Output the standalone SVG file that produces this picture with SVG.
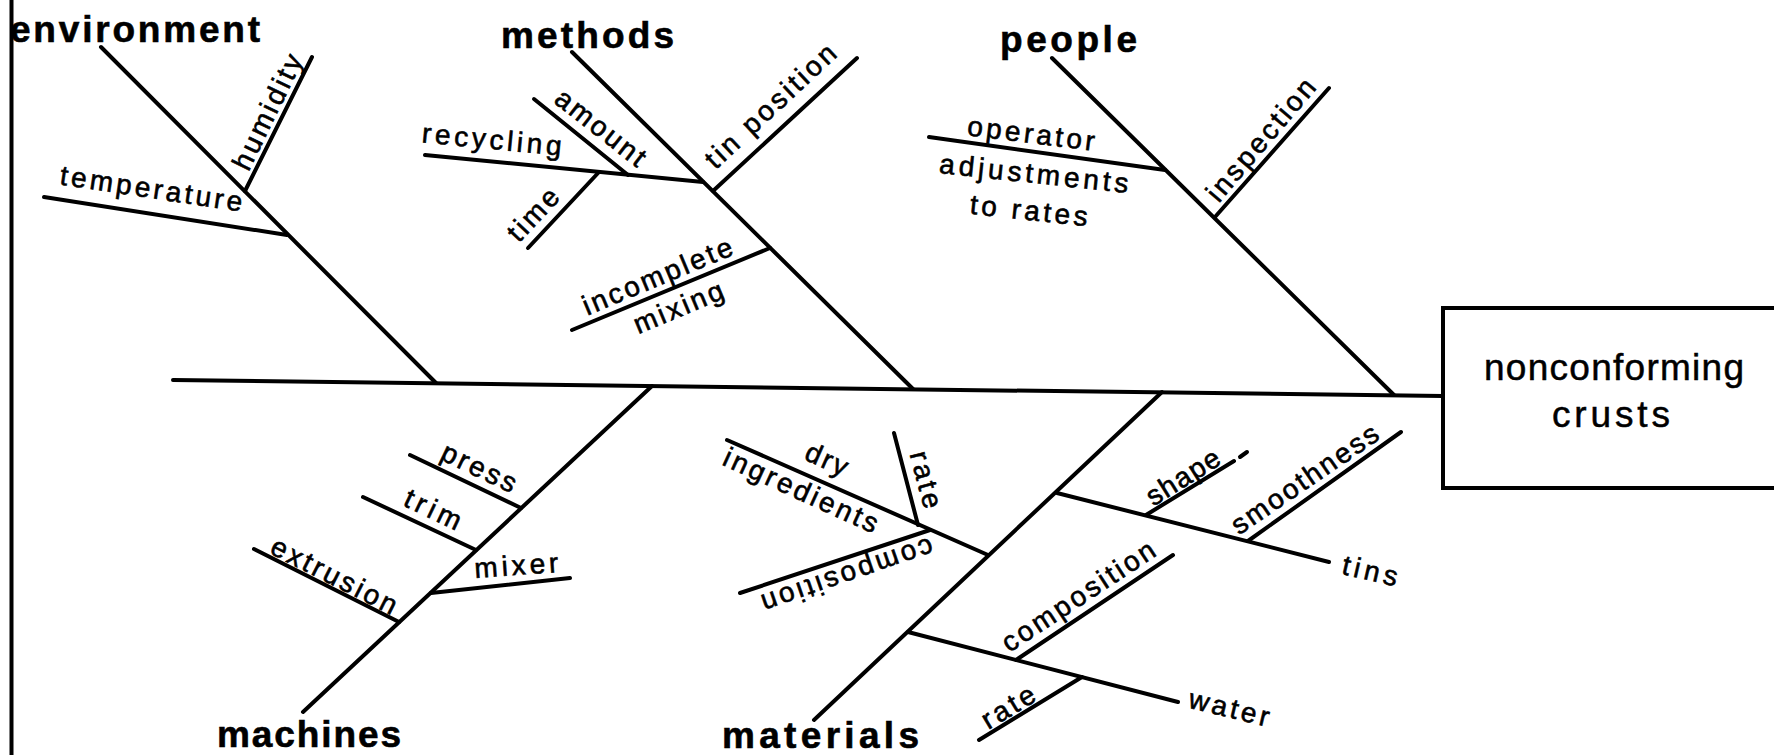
<svg xmlns="http://www.w3.org/2000/svg" width="1774" height="755" viewBox="0 0 1774 755">
<style>
.ln{stroke:#000;stroke-width:4;stroke-linecap:round;fill:none}
.cat{font-family:"Liberation Sans",Arial,sans-serif;font-weight:bold;font-size:37px;fill:#000;stroke:#000;stroke-width:0.6}
.lbl{font-family:"Liberation Sans",Arial,sans-serif;font-size:28px;fill:#000;stroke:#000;stroke-width:0.6}
.eff{font-family:"Liberation Sans",Arial,sans-serif;font-size:37px;fill:#000;stroke:#000;stroke-width:0.5}
</style>
<rect width="1774" height="755" fill="#fff"/>
<g id="connectors">
<line class="ln" x1="11.5" y1="0" x2="11.5" y2="755"/>
<line class="ln" x1="173" y1="380" x2="1443" y2="396"/>
<line class="ln" x1="101" y1="47" x2="436" y2="383"/>
<line class="ln" x1="245" y1="191" x2="312" y2="57"/>
<line class="ln" x1="44" y1="197" x2="287" y2="235"/>
<line class="ln" x1="572" y1="52" x2="913" y2="389"/>
<line class="ln" x1="425" y1="155" x2="703" y2="182"/>
<line class="ln" x1="534" y1="99" x2="628" y2="175"/>
<line class="ln" x1="599" y1="172" x2="528" y2="248"/>
<line class="ln" x1="713" y1="191" x2="857" y2="58"/>
<line class="ln" x1="770" y1="248" x2="572" y2="330"/>
<line class="ln" x1="1052" y1="58" x2="1394" y2="395"/>
<line class="ln" x1="929" y1="137" x2="1165" y2="170"/>
<line class="ln" x1="1215" y1="217" x2="1329" y2="88"/>
<line class="ln" x1="652" y1="386" x2="303" y2="712"/>
<line class="ln" x1="410" y1="455" x2="521" y2="508"/>
<line class="ln" x1="363" y1="497" x2="476" y2="550"/>
<line class="ln" x1="431" y1="593" x2="570" y2="578"/>
<line class="ln" x1="254" y1="549" x2="399" y2="622"/>
<line class="ln" x1="1162" y1="392" x2="814" y2="720"/>
<line class="ln" x1="727" y1="440" x2="988" y2="555"/>
<line class="ln" x1="894" y1="433" x2="918" y2="525"/>
<line class="ln" x1="930" y1="530" x2="740" y2="593"/>
<line class="ln" x1="1057" y1="493" x2="1329" y2="562"/>
<line class="ln" x1="1146" y1="515" x2="1234" y2="461"/>
<line class="ln" x1="1240" y1="457" x2="1247" y2="452"/>
<line class="ln" x1="1248" y1="541" x2="1401" y2="432"/>
<line class="ln" x1="908" y1="632" x2="1178" y2="702"/>
<line class="ln" x1="1016" y1="660" x2="1173" y2="555"/>
<line class="ln" x1="1082" y1="677" x2="979" y2="740"/>
</g>
<g id="effect">
<rect x="1443" y="308" width="400" height="180" fill="none" stroke="#000" stroke-width="4"/>
<text class="eff" x="1614" y="380" text-anchor="middle" textLength="260" lengthAdjust="spacing">nonconforming</text>
<text class="eff" x="1611" y="427" text-anchor="middle" textLength="118" lengthAdjust="spacing">crusts</text>
</g>
<g id="environment">
<text class="cat" x="10" y="42" textLength="250" lengthAdjust="spacing">environment</text>
<text class="lbl" transform="translate(150,198) rotate(8.5)" text-anchor="middle" textLength="184" lengthAdjust="spacing">temperature</text>
<text class="lbl" transform="translate(276,116) rotate(-64)" text-anchor="middle" textLength="125" lengthAdjust="spacing">humidity</text>
</g>
<g id="methods">
<text class="cat" x="501" y="48" textLength="173" lengthAdjust="spacing">methods</text>
<text class="lbl" transform="translate(491,149) rotate(5.5)" text-anchor="middle" textLength="140" lengthAdjust="spacing">recycling</text>
<text class="lbl" transform="translate(595,135) rotate(38)" text-anchor="middle" textLength="107" lengthAdjust="spacing">amount</text>
<text class="lbl" transform="translate(540,221) rotate(-46.6)" text-anchor="middle" textLength="62" lengthAdjust="spacing">time</text>
<text class="lbl" transform="translate(777,113) rotate(-43)" text-anchor="middle" textLength="168" lengthAdjust="spacing">tin position</text>
<text class="lbl" transform="translate(661,285) rotate(-22.6)" text-anchor="middle" textLength="160" lengthAdjust="spacing">incomplete</text>
<text class="lbl" transform="translate(682,316) rotate(-22.6)" text-anchor="middle" textLength="95" lengthAdjust="spacing">mixing</text>
</g>
<g id="people">
<text class="cat" x="1000" y="52" textLength="137" lengthAdjust="spacing">people</text>
<text class="lbl" transform="translate(1030,143) rotate(7)" text-anchor="middle" textLength="128" lengthAdjust="spacing">operator</text>
<text class="lbl" transform="translate(1033,183) rotate(6)" text-anchor="middle" textLength="190" lengthAdjust="spacing">adjustments</text>
<text class="lbl" transform="translate(1028,220) rotate(6)" text-anchor="middle" textLength="118" lengthAdjust="spacing">to rates</text>
<text class="lbl" transform="translate(1268,146) rotate(-49.5)" text-anchor="middle" textLength="152" lengthAdjust="spacing">inspection</text>
</g>
<g id="machines">
<text class="cat" x="217" y="747" textLength="184" lengthAdjust="spacing">machines</text>
<text class="lbl" transform="translate(475,476) rotate(25.7)" text-anchor="middle" textLength="80" lengthAdjust="spacing">press</text>
<text class="lbl" transform="translate(429,518) rotate(25.5)" text-anchor="middle" textLength="60" lengthAdjust="spacing">trim</text>
<text class="lbl" transform="translate(330,584) rotate(27)" text-anchor="middle" textLength="138" lengthAdjust="spacing">extrusion</text>
<text class="lbl" transform="translate(517,575) rotate(-4)" text-anchor="middle" textLength="84" lengthAdjust="spacing">mixer</text>
</g>
<g id="materials">
<text class="cat" x="722" y="748" textLength="197" lengthAdjust="spacing">materials</text>
<text class="lbl" transform="translate(823,468) rotate(24)" text-anchor="middle" textLength="44" lengthAdjust="spacing">dry</text>
<text class="lbl" transform="translate(797,499) rotate(24.5)" text-anchor="middle" textLength="167" lengthAdjust="spacing">ingredients</text>
<text class="lbl" transform="translate(917,482) rotate(75)" text-anchor="middle" textLength="58" lengthAdjust="spacing">rate</text>
<text class="lbl" transform="translate(844.5,566.5) rotate(161)" text-anchor="middle" textLength="180" lengthAdjust="spacing">composition</text>
<text class="lbl" transform="translate(1188,485) rotate(-32)" text-anchor="middle" textLength="82" lengthAdjust="spacing">shape</text>
<text class="lbl" transform="translate(1310,487) rotate(-34.4)" text-anchor="middle" textLength="172" lengthAdjust="spacing">smoothness</text>
<text class="lbl" transform="translate(1368,580) rotate(13)" text-anchor="middle" textLength="56" lengthAdjust="spacing">tins</text>
<text class="lbl" transform="translate(1083.5,604) rotate(-33.4)" text-anchor="middle" textLength="178" lengthAdjust="spacing">composition</text>
<text class="lbl" transform="translate(1013,715) rotate(-31)" text-anchor="middle" textLength="58" lengthAdjust="spacing">rate</text>
<text class="lbl" transform="translate(1227,717) rotate(13.5)" text-anchor="middle" textLength="82" lengthAdjust="spacing">water</text>
</g>
</svg>
